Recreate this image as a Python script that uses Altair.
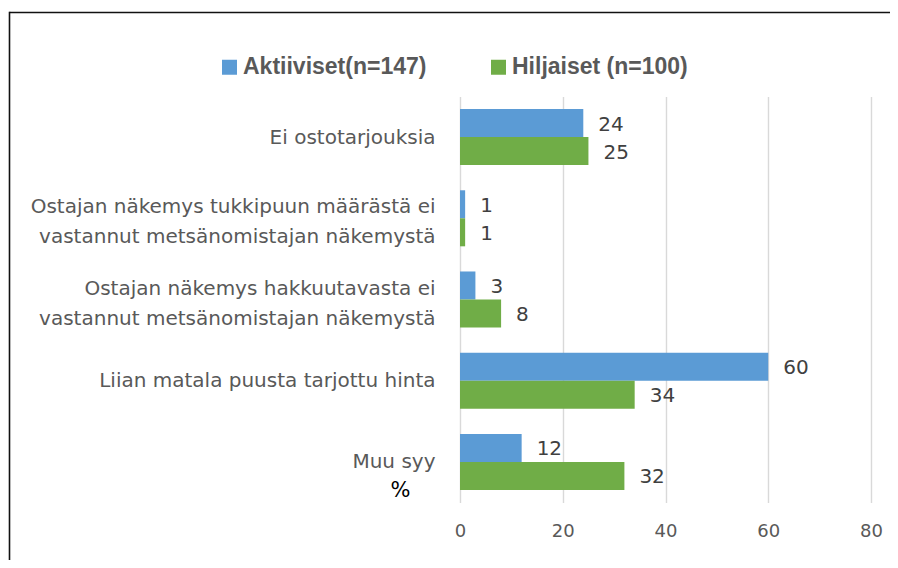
import altair as alt
import pandas as pd

categories = [
    "Ei ostotarjouksia",
    "Ostajan näkemys tukkipuun määrästä ei|vastannut metsänomistajan näkemystä",
    "Ostajan näkemys hakkuutavasta ei|vastannut metsänomistajan näkemystä",
    "Liian matala puusta tarjottu hinta",
    "Muu syy",
]
series_names = ["Aktiiviset(n=147)", "Hiljaiset (n=100)"]
aktiiviset = [24, 1, 3, 60, 12]
hiljaiset = [25, 1, 8, 34, 32]
x_ticks = [0, 20, 40, 60, 80]
colors = ["#5b9bd5", "#70ad47"]

rows = []
for c, a, h in zip(categories, aktiiviset, hiljaiset):
    rows.append({"cat": c, "series": series_names[0], "value": a})
    rows.append({"cat": c, "series": series_names[1], "value": h})
df = pd.DataFrame(rows)

FONT = "DejaVu Sans"

y_enc = alt.Y(
    "cat:N",
    sort=categories,
    title=None,
    scale=alt.Scale(paddingInner=0.31, paddingOuter=0.155),
    axis=alt.Axis(
        labelExpr="split(datum.label, '|')",
        labelOffset=alt.ExprRef(expr="indexof(datum.value, '|') >= 0 ? -11 : 0.5"),
        labelFont=FONT,
        labelFontSize=20,
        labelColor="#595959",
        labelLineHeight=30,
        labelPadding=25,
        labelLimit=600,
        ticks=False,
        tickSize=0,
        domain=False,
        grid=False,
    ),
)
x_enc = alt.X(
    "value:Q",
    title="%",
    scale=alt.Scale(domain=[0, 80], nice=False),
    axis=alt.Axis(
        values=x_ticks,
        labelFont=FONT,
        labelFontSize=18,
        labelColor="#595959",
        labelPadding=20,
        labelFlush=False,
        ticks=False,
        domain=False,
        grid=True,
        gridColor="#d9d9d9",
        gridWidth=1.4,
        titleFont=FONT,
        titleFontSize=21,
        titleFontWeight="normal",
        titleColor="#000000",
        titleX=-60,
        titleY=-12,
        titleAlign="center",
        titleBaseline="middle",
        titleAngle=0,
    ),
)
yoff = alt.YOffset("series:N", sort=series_names, scale=alt.Scale(paddingInner=0, paddingOuter=0))

bars = alt.Chart(df).mark_bar().encode(
    x=x_enc,
    y=y_enc,
    yOffset=yoff,
    color=alt.Color(
        "series:N",
        sort=series_names,
        scale=alt.Scale(domain=series_names, range=colors),
        legend=alt.Legend(
            orient="none",
            legendX=-242,
            legendY=-41,
            direction="horizontal",
            title=None,
            symbolType="square",
            symbolSize=225,
            symbolStrokeWidth=0,
            labelFont="Liberation Sans",
            labelFontSize=23,
            labelFontWeight="bold",
            labelColor="#595959",
            labelOffset=2,
            columnPadding=60,
            padding=0,
            labelLimit=400,
        ),
    ),
)

labels = alt.Chart(df).mark_text(
    align="left", baseline="middle", dx=15, dy=1.5,
    font=FONT, fontSize=20, color="#404040",
).encode(
    x="value:Q",
    y=alt.Y("cat:N", sort=categories),
    yOffset=alt.YOffset("series:N", sort=series_names),
    text="value:Q",
)

border_data = alt.Data(values=[{"k": 1}])
top_line = alt.Chart(border_data).mark_rule(color="#111111", strokeWidth=1.6).encode(
    x=alt.value(-450.5), x2=alt.value(460), y=alt.value(-84)
)
left_line = alt.Chart(border_data).mark_rule(color="#111111", strokeWidth=1.6).encode(
    x=alt.value(-450.5), y=alt.value(-84.8), y2=alt.value(480)
)

chart = alt.layer(bars, labels, top_line, left_line).properties(
    width=411,
    height=406,
    autosize=alt.AutoSizeParams(type="none"),
    padding={"left": 452, "top": 88.5, "right": 19, "bottom": 57.5},
    background="white",
).configure_view(stroke=None)

chart.save("out.html", embed_options={"renderer": "svg", "actions": False})
